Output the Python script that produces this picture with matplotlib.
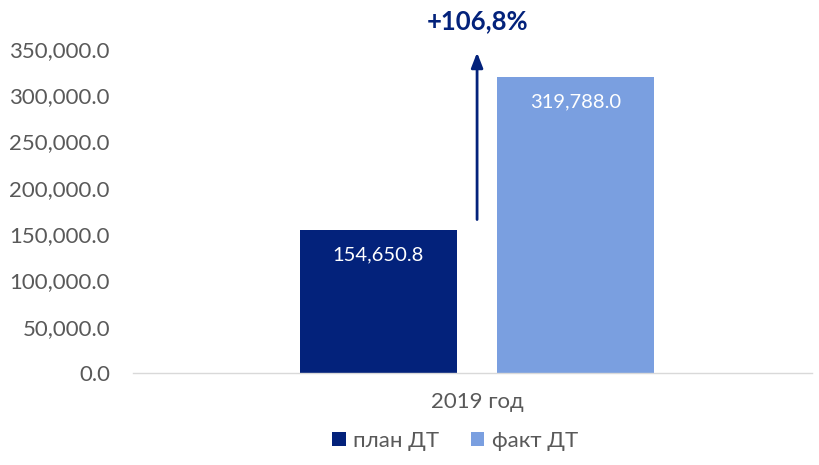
import matplotlib.pyplot as plt

plt.rcParams['font.family'] = ['Lato', 'DejaVu Sans']

# data
category = ['2019 год']
series_names = ['план ДТ', 'факт ДТ']
plan_values = [154650.8]
fact_values = [319788.0]
growth_label = '+106,8%'
y_ticks = [0, 50000, 100000, 150000, 200000, 250000, 300000, 350000]

dark = '#03227B'
light = '#7A9FE0'
grey = '#595959'

fig = plt.figure(figsize=(8.2, 4.65), dpi=100)
ax = fig.add_axes([0.162, 0.198, 0.828, 0.697])

w = 0.231
off = 0.1455
x = [0]
ax.bar([v - off for v in x], plan_values, width=w, color=dark, label=series_names[0])
ax.bar([v + off for v in x], fact_values, width=w, color=light, label=series_names[1])

# value labels inside the bars
for val, pos in zip(plan_values, [v - off for v in x]):
    ax.text(pos, val - 27000, f'{val:,.1f}', ha='center', va='center', color='white', fontsize=14.5)
for val, pos in zip(fact_values, [v + off for v in x]):
    ax.text(pos, val - 27000, f'{val:,.1f}', ha='center', va='center', color='white', fontsize=14.5)

# growth arrow
ax.annotate('', xy=(x[0], 349000), xytext=(x[0], plan_values[0] + 8000),
            arrowprops=dict(arrowstyle='-|>,head_width=0.35,head_length=0.9', color=dark, lw=2),
            annotation_clip=False)
ax.text(x[0], 380000, growth_label, ha='center', va='center', color=dark,
        fontsize=18.5, fontweight='bold', clip_on=False)

ax.set_xlim(-0.507, 0.493)
ax.set_ylim(0, 350000)
ax.set_yticks(y_ticks)
ax.set_yticklabels([f'{t:,.1f}' for t in y_ticks], fontsize=16, color=grey)
ax.set_xticks(x)
ax.set_xticklabels(category, fontsize=16, color=grey)
ax.tick_params(axis='both', length=0)
ax.tick_params(axis='x', pad=14)
ax.tick_params(axis='y', pad=16.5)

for s in ['top', 'right', 'left']:
    ax.spines[s].set_visible(False)
ax.spines['bottom'].set_color('#D9D9D9')
ax.spines['bottom'].set_linewidth(1)

fig.legend(loc='center', bbox_to_anchor=(0.555, 0.052), ncol=2, frameon=False,
           fontsize=16, labelcolor=grey, handlelength=0.6, handleheight=0.6,
           handletextpad=0.35, columnspacing=1.4)

plt.savefig('out.png', dpi=100)
